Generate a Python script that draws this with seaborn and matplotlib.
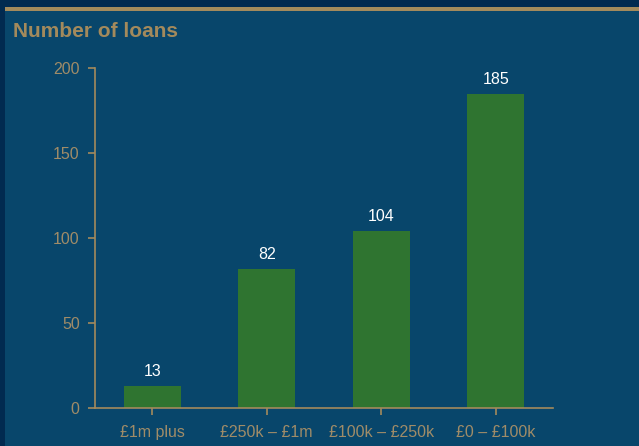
import matplotlib
matplotlib.use("Agg")
import matplotlib.pyplot as plt
import seaborn as sns
import pandas as pd

categories = ["£1m plus", "£250k – £1m", "£100k – £250k", "£0 – £100k"]
loans = [13, 82, 104, 185]
y_ticks = [0, 50, 100, 150, 200]

BG = "#08466b"
FRAME = "#012a50"
GOLD = "#a38a5c"
TEXT = "#a08c68"
BAR = "#2f7430"

sns.set_theme(style="white")
plt.rcParams["font.family"] = ["Liberation Sans", "DejaVu Sans"]

df = pd.DataFrame({"band": categories, "loans": loans})

fig = plt.figure(figsize=(6.39, 4.46), dpi=100)
fig.patch.set_facecolor(FRAME)

# panel background and gold rule
fig.add_artist(plt.Rectangle((5 / 639, 0), 1, 1 - 7 / 446, transform=fig.transFigure,
                             facecolor=BG, edgecolor="none", zorder=0))
fig.add_artist(plt.Rectangle((5 / 639, 1 - 10.5 / 446), 1, 3.5 / 446, transform=fig.transFigure,
                             facecolor=GOLD, edgecolor="none", zorder=1))

ax = fig.add_axes([95 / 639, 1 - 408 / 446, (553 - 95) / 639, (408 - 68) / 446])
ax.set_facecolor("none")

sns.barplot(data=df, x="band", y="loans", color=BAR, width=0.5, saturation=1,
            linewidth=0, edgecolor="none", ax=ax)

ax.set_xlim(-0.5, 3.5)
ax.set_ylim(0, 200)
ax.set_yticks(y_ticks)
ax.set_xlabel("")
ax.set_ylabel("")

for s in ["top", "right"]:
    ax.spines[s].set_visible(False)
for s in ["left", "bottom"]:
    ax.spines[s].set_color(GOLD)
    ax.spines[s].set_linewidth(1.2)

ax.tick_params(axis="both", colors=GOLD, labelcolor=TEXT, labelsize=11.5,
               length=5, width=1.2, direction="out", left=True, bottom=True)
ax.tick_params(axis="y", pad=6)
ax.tick_params(axis="x", pad=7)

for i, v in enumerate(loans):
    ax.annotate(str(v), (i, v), xytext=(0, 5), textcoords="offset points",
                ha="center", va="bottom", color="white", fontsize=11.5)

fig.text(13 / 639, 1 - 31.5 / 446, "Number of loans", color=GOLD, fontsize=15,
         fontweight="bold", ha="left", va="center")

fig.savefig("out.png", dpi=100, facecolor=fig.get_facecolor())
